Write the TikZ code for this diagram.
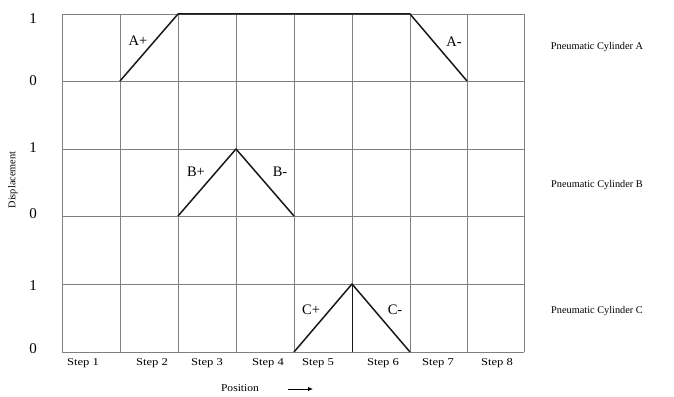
\documentclass[tikz,border=0pt]{standalone}
\usepackage{fontspec}
\setmainfont{Liberation Serif}
\usetikzlibrary{arrows.meta}
\begin{document}
\begin{tikzpicture}[x=1pt,y=-1pt,
  gridline/.style={draw=black!50, line width=0.8pt},
  motion/.style={draw=black!90, line width=1.5pt, line join=round},
  lvl/.style={font=\fontsize{15}{17}\selectfont, inner sep=0pt},
  cyl/.style={font=\fontsize{10.3}{12}\selectfont, inner sep=0pt},
  steplbl/.style={font=\fontsize{10.5}{12}\selectfont, inner sep=0pt},
  mlabel/.style={font=\fontsize{14.5}{16}\selectfont, inner sep=0pt}]
\useasboundingbox (0,0) rectangle (674,396);
% grid
\foreach \x in {62,120,178,236,294,352,410,467,524}
  \draw[gridline] (\x,14) -- (\x,352);
\foreach \y in {14,81,149,216,284,352}
  \draw[gridline] (62,\y) -- (524,\y);
% key points
\coordinate (a0) at (120,81);
\coordinate (a1) at (178,14);
\coordinate (a2) at (410,14);
\coordinate (a3) at (467,81);
\coordinate (b0) at (178,216);
\coordinate (b1) at (236,149);
\coordinate (b2) at (294,216);
\coordinate (c0) at (294,352);
\coordinate (c1) at (352,284);
\coordinate (c2) at (410,352);
\coordinate (cbase) at (352,352);
% motion diagrams
\draw[motion] (a0) -- (a1) -- (a2) -- (a3);
\draw[motion] (b0) -- (b1) -- (b2);
\draw[motion] (c0) -- (c1) -- (c2);
\draw[draw=black!90, line width=1pt] (c1) -- (cbase);
% motion labels
\node[mlabel] (lap) at (138,41) {A+};
\node[mlabel] (lam) at (454,42) {A-};
\node[mlabel] (lbp) at (196,172) {B+};
\node[mlabel] (lbm) at (280,172) {B-};
\node[mlabel] (lcp) at (311,310) {C+};
\node[mlabel] (lcm) at (395,310) {C-};
% level labels
\node[lvl] (ya1) at (33,19) {1};
\node[lvl] (ya0) at (33,81) {0};
\node[lvl] (yb1) at (33,148) {1};
\node[lvl] (yb0) at (33,214) {0};
\node[lvl] (yc1) at (33,286) {1};
\node[lvl] (yc0) at (33,349) {0};
% cylinder names
\node[cyl] (cya) at (597,47) {Pneumatic Cylinder A};
\node[cyl] (cyb) at (597,185) {Pneumatic Cylinder B};
\node[cyl] (cyc) at (597,311) {Pneumatic Cylinder C};
% axis labels
\node[cyl, rotate=90] (disp) at (13,180) {Displacement};
\foreach \x/\n in {83/1,152/2,207/3,268/4,318/5,383/6,438/7,497/8}
  \node[steplbl] (s\n) at (\x,363) {\scalebox{1.2}[1]{Step \n}};
\node[steplbl] (pos) at (240,388) {\scalebox{1.1}[1]{Position}};
\coordinate (arrs) at (288,389);
\coordinate (arre) at (313,389);
\draw[line width=0.8pt, -{Latex[length=5pt,width=4.5pt]}] (arrs) -- (arre);
\end{tikzpicture}
\end{document}
